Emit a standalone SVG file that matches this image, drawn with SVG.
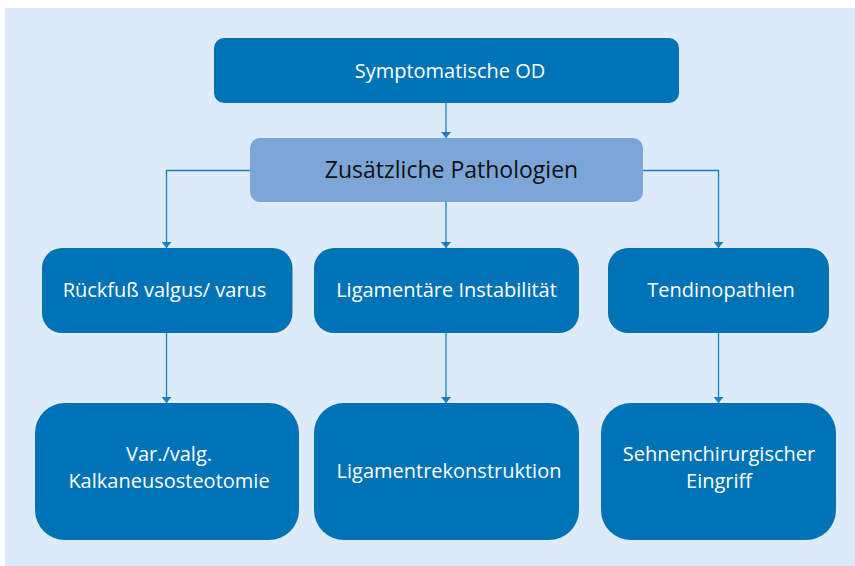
<svg xmlns="http://www.w3.org/2000/svg" width="855" height="566" viewBox="0 0 855 566">
<style>
.bg{fill:#DDEBF8}
.n{fill:#0073B7}
.p{fill:#7BA6D7}
.t{font-family:"Open Sans","Noto Sans",sans-serif;font-size:20px;fill:#ffffff;text-anchor:middle}
.tp{font-family:"Open Sans","Noto Sans",sans-serif;font-size:23px;fill:#111111;text-anchor:middle}
.c{fill:none;stroke:#1A7DC0;stroke-width:1.3}
</style>
<defs>
<marker id="ah" viewBox="0 0 6 10" refX="6" refY="5" markerWidth="6" markerHeight="10" markerUnits="userSpaceOnUse" orient="auto">
<path d="M0,0 L6,5 L0,10 z" fill="#1A7DC0"/>
</marker>
</defs>
<rect class="bg" x="5" y="8" width="850" height="558"/>
<g id="connectors">
<path class="c" d="M446,103 V138" marker-end="url(#ah)"/>
<path class="c" d="M250,170.5 H166.5 V248" marker-end="url(#ah)"/>
<path class="c" d="M446,202 V248" marker-end="url(#ah)"/>
<path class="c" d="M643,170.5 H718.5 V248" marker-end="url(#ah)"/>
<path class="c" d="M166.5,333 V403" marker-end="url(#ah)"/>
<path class="c" d="M446,333 V403" marker-end="url(#ah)"/>
<path class="c" d="M718.5,333 V403" marker-end="url(#ah)"/>
</g>
<g id="n-symptomatische">
<rect class="n" x="214" y="38" width="465" height="65" rx="10"/>
<text class="t" x="450" y="78">Symptomatische OD</text>
</g>
<g id="n-zusaetzliche">
<rect class="p" x="250" y="138" width="393" height="64" rx="10"/>
<text class="tp" x="451.5" y="178">Zusätzliche Pathologien</text>
</g>
<g id="n-rueckfuss">
<rect class="n" x="42" y="248" width="250.5" height="85" rx="20"/>
<text class="t" x="164.5" y="297">Rückfuß valgus/ varus</text>
</g>
<g id="n-ligamentaer">
<rect class="n" x="314" y="248" width="265" height="85" rx="20"/>
<text class="t" x="446.5" y="297">Ligamentäre Instabilität</text>
</g>
<g id="n-tendinopathien">
<rect class="n" x="608" y="248" width="221" height="85" rx="20"/>
<text class="t" x="721" y="297">Tendinopathien</text>
</g>
<g id="n-kalkaneus">
<rect class="n" x="35" y="403" width="264" height="137" rx="30"/>
<text class="t" x="169" y="461">Var./valg.</text>
<text class="t" x="169" y="488">Kalkaneusosteotomie</text>
</g>
<g id="n-ligamentrekonstruktion">
<rect class="n" x="314" y="403" width="265" height="137" rx="30"/>
<text class="t" x="449" y="478">Ligamentrekonstruktion</text>
</g>
<g id="n-sehnen">
<rect class="n" x="601" y="403" width="235" height="137" rx="30"/>
<text class="t" x="719" y="461">Sehnenchirurgischer</text>
<text class="t" x="719" y="488">Eingriff</text>
</g>
</svg>
